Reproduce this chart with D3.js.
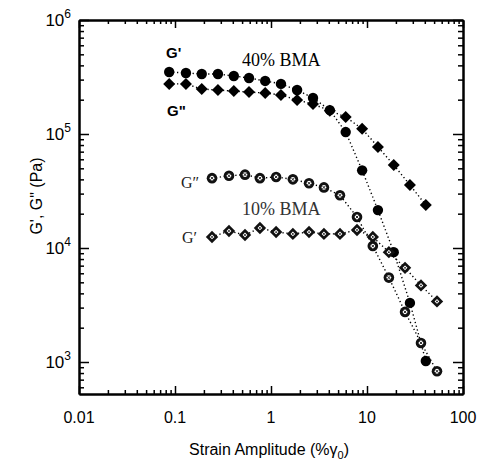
<!DOCTYPE html>
<html><head><meta charset="utf-8">
<script src="https://cdn.jsdelivr.net/npm/d3@7"></script>
<style>
html,body{margin:0;padding:0;background:#fff;}
svg{display:block;}
</style></head>
<body>
<svg id="chart" width="480" height="462"></svg>
<script>
// ---- data ----
const strain40 = [0.087,0.13,0.19,0.28,0.41,0.59,0.87,1.27,1.87,2.74,4.1,6.0,8.9,13,19,28,41];
const gPrime40 = [3.5e5,3.43e5,3.36e5,3.36e5,3.23e5,3.1e5,2.92e5,2.75e5,2.43e5,2.07e5,1.62e5,1.04e5,4.8e4,2.15e4,9.2e3,3.3e3,1.02e3];
const gDouble40 = [2.75e5,2.75e5,2.48e5,2.43e5,2.38e5,2.33e5,2.29e5,2.2e5,1.99e5,1.83e5,1.6e5,1.41e5,1.11e5,7.7e4,5.35e4,3.57e4,2.38e4];
const strain10 = [0.243,0.365,0.536,0.767,1.13,1.69,2.49,3.56,5.23,7.87,11.5,16.9,24.9,36.5,53.6];
const gPrime10 = [1.25e4,1.41e4,1.30e4,1.50e4,1.38e4,1.33e4,1.38e4,1.33e4,1.33e4,1.44e4,1.25e4,9.2e3,6.7e3,4.7e3,3.4e3];
const gDouble10 = [4.1e4,4.3e4,4.4e4,4.1e4,4.2e4,4.0e4,3.7e4,3.4e4,2.9e4,1.87e4,1.04e4,5.5e3,2.75e3,1.47e3,8.3e2];
const xTickValues = [0.01,0.1,1,10,100];
const xTickLabels = ["0.01","0.1","1","10","100"];
const yTickExponents = [3,4,5,6];

const svg = d3.select("#chart");
const L=79, R=463, T=20, B=394;
const x = d3.scaleLog().domain([0.01,100]).range([L,R]);
const y = d3.scaleLog().domain([Math.pow(10,3-32/114),1e6]).range([B,T]);

const font = "'Liberation Sans', Arial, Helvetica, sans-serif";
const serif = "'Liberation Serif','Times New Roman',serif";

// minor tick values
const xMinor=[]; for(let e=-2;e<2;e++) for(let m=2;m<=9;m++) xMinor.push(m*Math.pow(10,e));
const yMinor=[]; for(let e=2;e<6;e++) for(let m=2;m<=9;m++){const v=m*Math.pow(10,e); if(v>=y.domain()[0]) yMinor.push(v);}
const yMajor = yTickExponents.map(e=>Math.pow(10,e));

function styleAxis(g){ g.selectAll("path.domain").attr("stroke","#000").attr("stroke-width",2);
  g.selectAll(".tick line").attr("stroke","#000").attr("stroke-width",1.5); g.selectAll(".tick text").remove(); }

// bottom
svg.append("g").attr("transform",`translate(0,${B})`).call(d3.axisBottom(x).tickValues(xTickValues).tickSize(-8).tickSizeOuter(0).tickFormat("")).call(styleAxis);
svg.append("g").attr("transform",`translate(0,${B})`).call(d3.axisBottom(x).tickValues(xMinor).tickSize(-4).tickSizeOuter(0).tickFormat("")).call(styleAxis);
// top
svg.append("g").attr("transform",`translate(0,${T})`).call(d3.axisTop(x).tickValues(xTickValues).tickSize(-8).tickSizeOuter(0).tickFormat("")).call(styleAxis);
svg.append("g").attr("transform",`translate(0,${T})`).call(d3.axisTop(x).tickValues(xMinor).tickSize(-4).tickSizeOuter(0).tickFormat("")).call(styleAxis);
// left
svg.append("g").attr("transform",`translate(${L},0)`).call(d3.axisLeft(y).tickValues(yMajor).tickSize(-10).tickSizeOuter(0).tickFormat("")).call(styleAxis);
svg.append("g").attr("transform",`translate(${L},0)`).call(d3.axisLeft(y).tickValues(yMinor).tickSize(-5).tickSizeOuter(0).tickFormat("")).call(styleAxis);
// right
svg.append("g").attr("transform",`translate(${R},0)`).call(d3.axisRight(y).tickValues(yMajor).tickSize(-10).tickSizeOuter(0).tickFormat("")).call(styleAxis);
svg.append("g").attr("transform",`translate(${R},0)`).call(d3.axisRight(y).tickValues(yMinor).tickSize(-5).tickSizeOuter(0).tickFormat("")).call(styleAxis);

// x tick labels
svg.append("g").selectAll("text").data(xTickValues).join("text")
  .attr("x",d=>x(d)).attr("y",B+29).attr("text-anchor","middle")
  .attr("font-family",font).attr("font-size",16).attr("fill","#000")
  .text((d,i)=>xTickLabels[i]);
// y tick labels with superscripts
const yl = svg.append("g").selectAll("text").data(yTickExponents).join("text")
  .attr("x",L-8).attr("y",d=>y(Math.pow(10,d))+6).attr("text-anchor","end")
  .attr("font-family",font).attr("font-size",17).attr("fill","#000");
yl.append("tspan").text("10");
yl.append("tspan").attr("font-size",12).attr("dy",-8).text(d=>d);

// axis titles
const xt = svg.append("text").attr("x",269).attr("y",455).attr("text-anchor","middle")
  .attr("font-family",font).attr("font-size",16).attr("fill","#000");
xt.append("tspan").text("Strain Amplitude (%\u03b3");
xt.append("tspan").attr("font-size",11).attr("dy",4).text("0");
xt.append("tspan").attr("dy",-4).text(")");
svg.append("text").attr("transform","translate(42,196) rotate(-90)").attr("text-anchor","middle")
  .attr("font-family",font).attr("font-size",16).attr("fill","#000").text("G', G\" (Pa)");

// dotted lines
const line = (xs)=>d3.line().x((d,i)=>x(xs[i])).y(d=>y(d));
[[strain40,gPrime40],[strain40,gDouble40],[strain10,gPrime10],[strain10,gDouble10]].forEach(([xs,ys])=>{
  svg.append("path").datum(ys).attr("d",line(xs)).attr("fill","none").attr("stroke","#000")
    .attr("stroke-width",1.4).attr("stroke-dasharray","1.3,2.6").attr("stroke-linecap","butt");
});

// markers
const diamond = r=>`M0,${-r}L${r},0L0,${r}L${-r},0Z`;
// 40% G'' filled diamonds
svg.append("g").selectAll("path").data(gDouble40).join("path")
  .attr("transform",(d,i)=>`translate(${x(strain40[i])},${y(d)})`).attr("d",diamond(6)).attr("fill","#000");
// 40% G' filled circles
svg.append("g").selectAll("circle").data(gPrime40).join("circle")
  .attr("cx",(d,i)=>x(strain40[i])).attr("cy",d=>y(d)).attr("r",5.2).attr("fill","#000");
// 10% G' hatched diamonds
const hd = svg.append("g").selectAll("g").data(gPrime10).join("g")
  .attr("transform",(d,i)=>`translate(${x(strain10[i])},${y(d)})`);
hd.append("path").attr("d",diamond(6.2)).attr("fill","#111");
hd.append("path").attr("d",diamond(2.4)).attr("fill","#fff");
hd.append("circle").attr("r",0.9).attr("fill","#111");
// 10% G'' hatched circles
const hc = svg.append("g").selectAll("g").data(gDouble10).join("g")
  .attr("transform",(d,i)=>`translate(${x(strain10[i])},${y(d)})`);
hc.append("circle").attr("r",5.3).attr("fill","#111");
hc.append("circle").attr("r",2.4).attr("fill","#fff");
hc.append("path").attr("d","M-1.7,-1.7L1.7,1.7M-1.7,1.7L1.7,-1.7").attr("stroke","#111").attr("stroke-width",0.9);

// labels
svg.append("text").attr("x",166).attr("y",58).attr("font-family",font).attr("font-weight","bold").attr("font-size",15).text("G'");
svg.append("text").attr("x",167).attr("y",116).attr("font-family",font).attr("font-weight","bold").attr("font-size",15).text("G\"");
svg.append("text").attr("x",242).attr("y",66).attr("font-family",serif).attr("font-size",18).text("40% BMA");
svg.append("text").attr("x",242).attr("y",215).attr("font-family",serif).attr("font-size",18).attr("fill","#333").text("10% BMA");
svg.append("text").attr("x",181).attr("y",188).attr("font-family",serif).attr("font-size",16).attr("fill","#222").text("G\u2033");
svg.append("text").attr("x",182).attr("y",243).attr("font-family",serif).attr("font-size",16).attr("fill","#222").text("G\u2032");
</script>
</body></html>
